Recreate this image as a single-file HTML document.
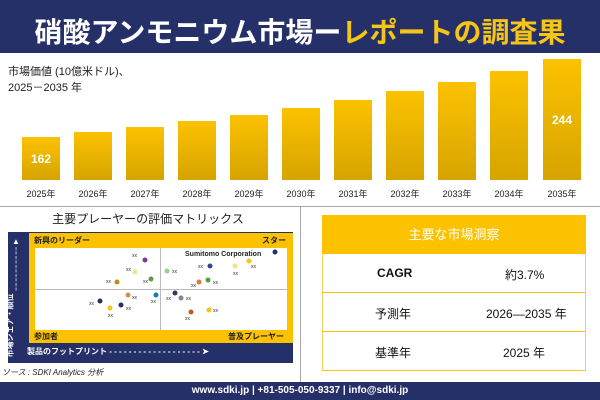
<!DOCTYPE html>
<html><head><meta charset="utf-8"><style>
body{margin:0;width:600px;height:400px;overflow:hidden;background:#fff;font-family:"Liberation Sans","Noto Sans CJK JP",sans-serif;position:relative}
.a{position:absolute}
.bar{position:absolute;bottom:220px;width:38px;background:linear-gradient(#fcc200,#d6a400)}
.yr{position:absolute;top:187px;font-size:9px;color:#222;width:44px;text-align:center;white-space:nowrap}
.row{position:absolute;left:322px;width:262px;height:38px;border-bottom:1px solid #f5c518;border-left:1px solid #f5d060;border-right:1px solid #f5d060;font-size:12px;color:#111}
.row span{position:absolute;top:12px}
</style></head><body>
<div class="a" style="left:0;top:0;width:600px;height:53px;background:#252f68"></div>
<div class="a" style="left:0;top:11px;width:600px;text-align:center;font-size:28px;font-weight:bold;color:#fff;white-space:nowrap">硝酸アンモニウム市場ー<span style="color:#f5c518">レポートの調査果</span></div>
<div class="a" style="left:8px;top:64px;font-size:11px;color:#222;line-height:16px">市場価値 (10億米ドル)、<br>2025－2035 年</div>
<div class="bar" style="left:22px;top:137px"></div>
<div class="bar" style="left:74px;top:132px"></div>
<div class="bar" style="left:126px;top:127px"></div>
<div class="bar" style="left:178px;top:121px"></div>
<div class="bar" style="left:230px;top:115px"></div>
<div class="bar" style="left:282px;top:108px"></div>
<div class="bar" style="left:334px;top:100px"></div>
<div class="bar" style="left:386px;top:91px"></div>
<div class="bar" style="left:438px;top:82px"></div>
<div class="bar" style="left:490px;top:71px"></div>
<div class="bar" style="left:543px;top:59px"></div>
<div class="a" style="left:22px;top:152px;width:38px;text-align:center;color:#fff;font-weight:bold;font-size:12px">162</div>
<div class="a" style="left:543px;top:113px;width:38px;text-align:center;color:#fff;font-weight:bold;font-size:12px">244</div>
<div class="yr" style="left:19px">2025年</div><div class="yr" style="left:71px">2026年</div><div class="yr" style="left:123px">2027年</div><div class="yr" style="left:175px">2028年</div><div class="yr" style="left:227px">2029年</div><div class="yr" style="left:279px">2030年</div><div class="yr" style="left:331px">2031年</div><div class="yr" style="left:383px">2032年</div><div class="yr" style="left:435px">2033年</div><div class="yr" style="left:487px">2034年</div><div class="yr" style="left:540px">2035年</div>
<div class="a" style="left:0;top:206px;width:600px;height:1px;background:#aaa"></div>
<div class="a" style="left:300px;top:206px;width:1px;height:176px;background:#aaa"></div>
<div class="a" style="left:0;top:210px;width:296px;text-align:center;font-size:12px;color:#222">主要プレーヤーの評価マトリックス</div>
<div class="a" style="left:8px;top:232px;width:285px;height:131px;background:#252f68"></div>
<div class="a" style="left:29px;top:233px;width:264px;height:110px;background:#fcc200"></div>
<div class="a" style="left:35px;top:248px;width:252px;height:82px;background:#fff"></div>
<div class="a" style="left:160px;top:248px;width:1px;height:82px;background:#bbb"></div>
<div class="a" style="left:35px;top:289px;width:252px;height:1px;background:#bbb"></div>
<div class="a" style="left:34px;top:235px;font-size:8px;font-weight:bold;color:#222">新興のリーダー</div>
<div class="a" style="left:262px;top:235px;font-size:8px;font-weight:bold;color:#222">スター</div>
<div class="a" style="left:34px;top:331px;font-size:8px;font-weight:bold;color:#222">参加者</div>
<div class="a" style="left:228px;top:331px;font-size:8px;font-weight:bold;color:#222">普及プレーヤー</div>
<div class="a" style="left:27px;top:346px;font-size:8px;font-weight:bold;color:#fff;white-space:nowrap">製品のフットプリント - - - - - - - - - - - - - - - - - - - ➤</div>
<div class="a" style="left:11px;top:237px;width:10px;font-size:8px;color:#fff;line-height:9px;text-align:center">▲<br>¦<br>¦<br>¦<br>¦<br>¦</div>
<div class="a" style="left:-22px;top:320px;transform:rotate(-90deg);font-size:8px;font-weight:bold;color:#fff;white-space:nowrap">市場シェア・順位</div>
<svg class="a" style="left:0;top:200px" width="300" height="160" font-family="Liberation Sans" font-size="5" fill="#333">
<text x="185" y="56" font-size="7" font-weight="bold" fill="#222">Sumitomo Corporation</text>
<g>
<circle cx="275" cy="52" r="2.5" fill="#252f68"/><circle cx="249" cy="61" r="2.5" fill="#f5c518"/><circle cx="235" cy="66" r="2.5" fill="#f5e08a"/><circle cx="210" cy="66" r="2.5" fill="#2e4a8a"/><circle cx="167" cy="71" r="2.5" fill="#9ccf8a"/><circle cx="208" cy="80" r="2.5" fill="#5a9a40"/><circle cx="199" cy="82" r="2.5" fill="#e0783a"/><circle cx="175" cy="93" r="2.5" fill="#333a60"/><circle cx="181" cy="98" r="2.5" fill="#888"/><circle cx="209" cy="110" r="2.5" fill="#f5c518"/><circle cx="191" cy="112" r="2.5" fill="#c05a20"/>
<circle cx="145" cy="60" r="2.5" fill="#7a3aa0"/><circle cx="135" cy="72" r="2.5" fill="#f5e08a"/><circle cx="151" cy="79" r="2.5" fill="#5a9a40"/><circle cx="117" cy="82" r="2.5" fill="#b8900a"/><circle cx="128" cy="95" r="2.5" fill="#e08a50"/><circle cx="156" cy="95" r="2.5" fill="#1a7ac0"/><circle cx="100" cy="101" r="2.5" fill="#252f68"/><circle cx="121" cy="105" r="2.5" fill="#252f68"/><circle cx="110" cy="108" r="2.5" fill="#f5c518"/>
</g>
<text x="132" y="57">xx</text><text x="126" y="71">xx</text><text x="143" y="83">xx</text><text x="106" y="83">xx</text><text x="132" y="99">xx</text><text x="151" y="103">xx</text><text x="89" y="105">xx</text><text x="126" y="110">xx</text><text x="108" y="117">xx</text>
<text x="198" y="68">xx</text><text x="251" y="68">xx</text><text x="233" y="75">xx</text><text x="172" y="73">xx</text><text x="213" y="84">xx</text><text x="191" y="87">xx</text><text x="166" y="100">xx</text><text x="186" y="100">xx</text><text x="213" y="112">xx</text><text x="185" y="120">xx</text>
</svg>
<div class="a" style="left:2px;top:367px;font-size:8px;font-style:italic;color:#222">ソース : SDKI Analytics 分析</div>
<div class="a" style="left:322px;top:215px;width:264px;height:39px;background:#fcc200;color:#fff;font-size:13px;text-align:center;line-height:39px">主要な市場洞察</div>
<div class="row" style="top:254px"><span style="left:54px;font-weight:bold">CAGR</span><span style="left:182px">約3.7%</span></div>
<div class="row" style="top:293px"><span style="left:52px">予測年</span><span style="left:163px">2026—2035 年</span></div>
<div class="row" style="top:332px"><span style="left:52px">基準年</span><span style="left:180px">2025 年</span></div>
<div class="a" style="left:0;top:382px;width:600px;height:18px;background:#252f68;color:#fff;font-size:10px;font-weight:bold;text-align:center;line-height:18px">www.sdki.jp | +81-505-050-9337 | info@sdki.jp</div>
</body></html>
